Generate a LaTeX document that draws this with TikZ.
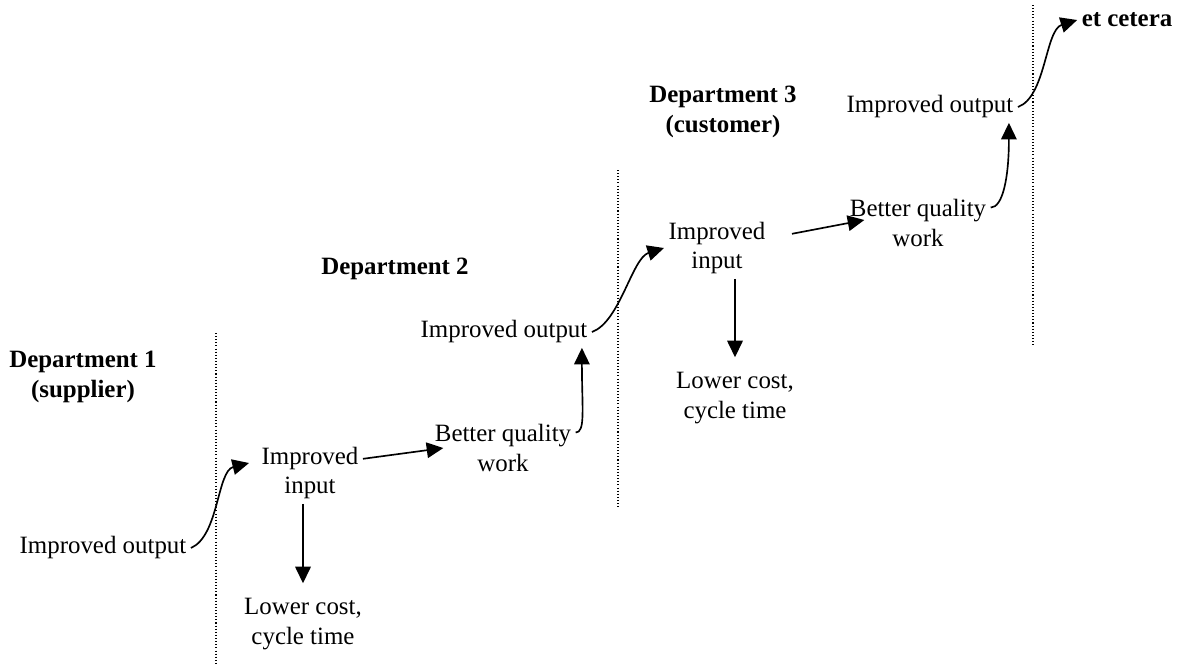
\documentclass[tikz,border=0pt]{standalone}
\usepackage{fontspec}
\setmainfont{Liberation Serif}
\usetikzlibrary{arrows.meta, calc}
\tikzset{lbl/.style={font=\fontsize{12}{14.4}\selectfont, align=center, inner sep=2pt},
         dept/.style={lbl, font=\fontsize{12}{14.4}\selectfont\bfseries},
         flow/.style={-{Triangle[length=8pt,width=7.5pt]}, line width=0.8pt},
         drop/.style={flow, shorten >=5pt},
         border/.style={densely dotted, line width=0.5pt},
        }

\begin{document}
\begin{tikzpicture}[x=0.016935cm, y=-0.016935cm]
        \useasboundingbox(0,0)rectangle(1181,669);

        \draw[border](216,333)--(216,665);
        \draw[border](618,170)--(618,508);
        \draw[border](1033,5)--(1033,345);

        \node[dept](d1)at(83,377){Department 1\\(supplier)};
        \node[lbl](out1)at(103,548){Improved output};
        \node[lbl](in1)at(310,473){Improved\\input};
        \node[lbl](low1)at(303,624){Lower cost,\\cycle time};
        \node[lbl](bq1)at(503,448){Better quality\\work};

        \node[dept](d2)at(395,269){Department 2};
        \node[lbl](out2)at(504,332){Improved output};
        \node[lbl](in2)at(717,248){Improved\\input};
        \node[lbl](low2)at(735,398){Lower cost,\\cycle time};
        \node[lbl](bq2)at(918,223){Better quality\\work};

        \node[dept](d3)at(723,112){Department 3\\(customer)};
        \node[lbl](out3)at(930,107){Improved output};
        \node[dept](etc)at(1127,20){et cetera};

        \draw[flow](out1.east)..controls +(28,-12) and +(-32,8)..($(in1.west)+(-8,-10)$);
        \draw[drop](in1.south -| low1.north)--(low1.north);
        \draw[flow](in1.15)--($(bq1.west)+(13,0)$);
        \draw[flow](bq1.12)..controls +(10,0) and +(0,60)..($(out2.south east)+(-10,0)$);

        \draw[flow](out2.east)..controls +(28,-10) and +(-32,10)..(in2.west);
        \draw[drop](in2.south -| low2.north)--(low2.north);
        \draw[flow]($(in2.15)+(22,0)$)--($(bq2.west)+(19,-3)$);
        \draw[flow](bq2.12)..controls +(12,0) and +(0,55)..($(out3.south east)+(-9,0)$);

        \draw[flow](out3.east)..controls +(28,-10) and +(-32,10)..(etc.west);
    \end{tikzpicture}
\end{document}
